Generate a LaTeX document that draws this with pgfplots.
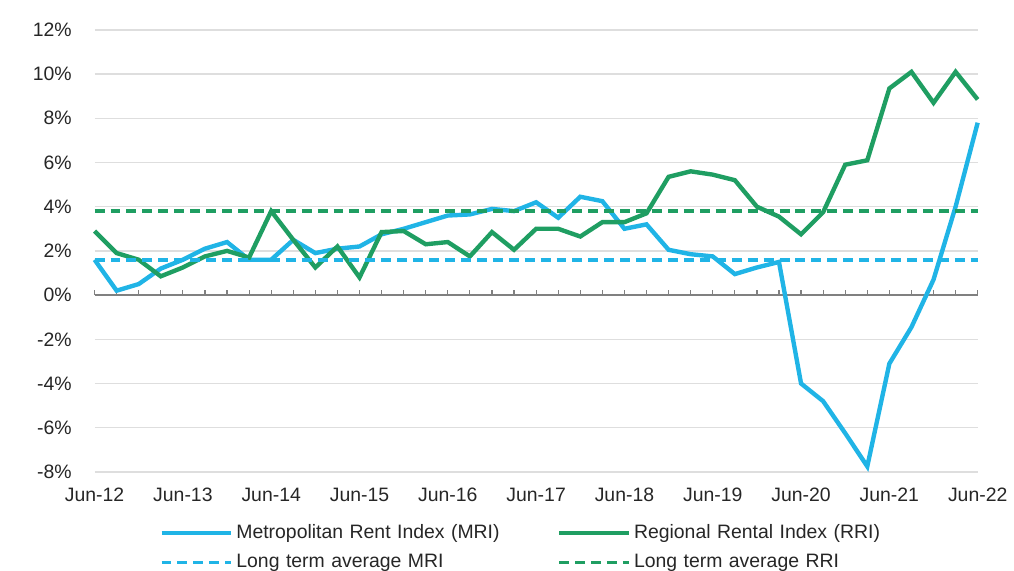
\documentclass[border=0pt]{standalone}
\usepackage{fontspec}
\setmainfont{Liberation Sans}
\usepackage{pgfplots}
\usepackage{pgfplotstable}
\pgfplotsset{compat=1.18}

\definecolor{mriblue}{RGB}{32,180,230}
\definecolor{rrigreen}{RGB}{31,158,98}
\definecolor{zerogray}{RGB}{128,128,128}
\definecolor{gridgray}{RGB}{222,222,222}

% quarterly annual growth, Jun-12 (q=0) to Jun-22 (q=40)
\pgfplotstableread{
q  mri    rri
0  1.60   2.90
1  0.20   1.90
2  0.50   1.60
3  1.20   0.85
4  1.60   1.25
5  2.10   1.75
6  2.40   2.00
7  1.60   1.70
8  1.60   3.80
9  2.50   2.50
10 1.90   1.25
11 2.10   2.20
12 2.20   0.80
13 2.75   2.85
14 3.00   2.90
15 3.30   2.30
16 3.60   2.40
17 3.65   1.75
18 3.90   2.85
19 3.80   2.05
20 4.20   3.00
21 3.50   3.00
22 4.45   2.65
23 4.25   3.30
24 3.00   3.30
25 3.20   3.70
26 2.05   5.35
27 1.85   5.60
28 1.75   5.45
29 0.95   5.20
30 1.25   4.00
31 1.50   3.55
32 -4.00  2.75
33 -4.80  3.75
34 -6.25  5.90
35 -7.75  6.10
36 -3.10  9.35
37 -1.45  10.10
38 0.70   8.70
39 4.00   10.10
40 7.80   8.85
}\rents

\begin{document}
\begin{tikzpicture}
\begin{axis}[
    width=443.5pt, height=222pt, scale only axis,
    xmin=0, xmax=40, ymin=-8, ymax=12,
    axis line style={draw=none},
    major tick length=0pt,
    xtick={0,4,...,40},
    xticklabels={Jun-12,Jun-13,Jun-14,Jun-15,Jun-16,Jun-17,Jun-18,Jun-19,Jun-20,Jun-21,Jun-22},
    ytick={-8,-6,...,12},
    yticklabels={-8\%,-6\%,-4\%,-2\%,0\%,2\%,4\%,6\%,8\%,10\%,12\%},
    ymajorgrids, grid style={gridgray, line width=0.7pt},
    tick label style={font=\fontsize{9.75}{11}\selectfont, text=black!85},
    yticklabel style={xshift=-8pt},
    xticklabel style={yshift=-4.5pt},
    clip=false,
    legend columns=2,
    legend cell align=left,
    legend image code/.code={\draw[#1] (0pt,0pt) -- (35pt,0pt);},
    legend style={draw=none, fill=none, inner sep=0pt, outer sep=0pt,
        at={(0.0733,-0.1185)}, anchor=north west,
        font=\fontsize{9.75}{11}\selectfont, text=black!85,
        row sep=6.5pt, nodes={inner sep=0pt},
        /tikz/every odd column/.append style={column sep=1.5pt},
        /tikz/every even column/.append style={text width=161pt}},
]
\path (rel axis cs:-0.1071,-0.2207) rectangle (rel axis cs:1.0361,1.0676);

\addplot[zerogray, line width=1pt, forget plot] coordinates {(0,0) (40,0)};
\pgfplotsinvokeforeach{0,...,40}{
  \draw[zerogray, line width=0.6pt] (axis cs:#1,0) -- ++(0pt,2.5pt);
}

\addplot[mriblue, line width=2.2pt] table[x=q, y=mri] {\rents};
\addlegendentry{Metropolitan Rent Index (MRI)}
\addplot[rrigreen, line width=2.2pt] table[x=q, y=rri] {\rents};
\addlegendentry{Regional Rental Index (RRI)}
\addplot[mriblue, line width=1.8pt, dash pattern=on 5pt off 3pt] coordinates {(0,1.6) (40,1.6)};
\addlegendentry{Long term average MRI}
\addplot[rrigreen, line width=1.8pt, dash pattern=on 5pt off 3pt] coordinates {(0,3.8) (40,3.8)};
\addlegendentry{Long term average RRI}
\end{axis}
\end{tikzpicture}
\end{document}
